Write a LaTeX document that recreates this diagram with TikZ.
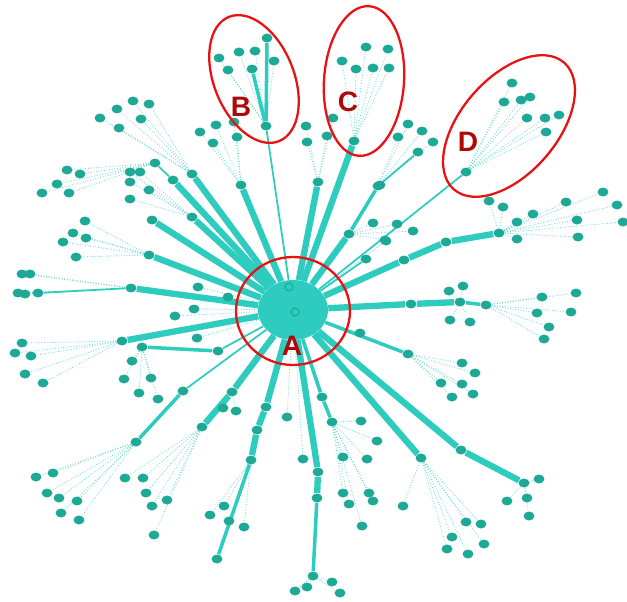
\documentclass[tikz,border=0pt]{standalone}
\usepackage{fontspec}
\setmainfont{Liberation Sans}
\usetikzlibrary{shapes.geometric,backgrounds}

\definecolor{nodeteal}{RGB}{30,168,150}
\definecolor{edgeteal}{RGB}{46,204,190}
\definecolor{ringred}{RGB}{232,18,18}
\definecolor{tagred}{RGB}{176,8,8}

\begin{document}
\begin{tikzpicture}[x=0.02cm,y=-0.02cm,
                    every node/.style={inner sep=0pt},
                    vertex/.style={ellipse,fill=nodeteal,minimum width=0.22cm,minimum height=0.18cm},
                    core/.style={ellipse,fill=edgeteal,minimum width=1.4cm,minimum height=1.2cm},
                    corevertex/.style={circle,draw=nodeteal,fill=edgeteal,line width=0.6pt,minimum size=0.16cm},
                    heavy/.style={draw=edgeteal,line width=3.6pt},
                    medium/.style={draw=edgeteal,line width=2pt},
                    light/.style={draw=edgeteal,line width=1pt},
                    faint/.style={draw=edgeteal,line width=0.5pt,densely dotted,opacity=0.65},
                    ring/.style={draw=ringred,line width=1.3pt},
                    tag/.style={text=tagred,font=\fontsize{16}{16}\selectfont\bfseries}]

  \useasboundingbox (0,0) rectangle (627,602);

  % the centre
  \node[core] (hub) at (293,310) {};
  \node[corevertex] (hubA) at (289,287) {};
  \node[corevertex] (hubB) at (295,312) {};

  % inner nodes
  \foreach \n/\x/\y in {b/266/126, c/354/141, d/466/172, u/318/182, f/349/234,
      e/378/186, g/366/259, rA/404/260, rB/446/242, rC/499/233,
      kA/411/304, kB/460/302, kC/486/305, m/408/354, pA/461/450, pB/524/483,
      q/421/458, sA/322/397, sB/332/422, vA/318/472, vB/317/498, vC/313/576,
      wA/266/407, wB/257/430, wC/251/460, xA/232/392, xB/202/427,
      yA/183/391, yB/136/442, zA/218/351, zB/142/347, o/122/341, l/131/288,
      h/149/255, i/152/220, j/192/217, nA/173/180, nB/155/163, t/192/174, a/241/185}
    \node[vertex] (\n) at (\x,\y) {};

  % outer nodes, each tied to its parent
  \foreach \p/\pts in {
      b/{267/38,219/58,239/52,255/51,274/61,228/70,252/69},
      c/{366/47,388/49,342/61,356/69,373/68,389/68},
      d/{512/83,504/102,521/100,530/97,527/118,545/118,559/115,546/132},
      u/{306/126,307/142,327/136,333/118},
      e/{398/137,408/124,422/131,433/142,418/152},
      f/{373/223,397/224,413/231,385/240},
      rC/{489/201,503/207,517/222,517/239,533/214,566/202,577/220,578/237,603/192,617/205,623/222},
      kB/{449/291,463/286,450/320,470/322},
      kC/{542/297,576/293,537/313,571/312,549/327,544/339},
      m/{462/363,475/373,441/383,462/384,452/397,473/394},
      pB/{539/479,507/501,527/498,529/516},
      q/{466/522,481/524,452/537,484/544,447/549,468/554,403/506},
      sB/{361/421,377/441,343/457,367/459,343/493,349/504,369/493,373/501,362/526},
      vC/{307/587,295/591,332/582,340/593},
      wC/{224/506,210/515,229/521,244/527,217/559},
      xA/{223/408,236/411},
      xB/{125/478,143/478,146/493,152/506,167/500,154/535},
      yB/{36/477,53/473,47/493,59/498,77/501,61/513,79/520},
      zB/{132/361,124/379,151/378,139/393,158/399},
      o/{22/343,15/353,31/356,25/374,43/383},
      l/{22/274,30/274,18/293,25/294,38/293},
      h/{85/221,73/233,86/238,63/242,76/257},
      j/{130/172,140/172,130/182,149/190,130/199},
      nB/{67/170,80/174,57/184,69/193,42/193},
      t/{100/118,117/109,133/101,149/104,119/128,141/119},
      a/{200/132,216/125,213/143,234/122,237/137},
      hub/{198/287,228/297,194/309,175/316,197/338,287/417,303/459,360/333,380/185,386/241}}
    \foreach [count=\k] \x/\y in \pts {
      \node[vertex] (\p\k) at (\x,\y) {};
      \begin{scope}[on background layer]
        \path (\p) edge[faint] (\p\k);
      \end{scope}
    };

  % spokes and chains
  \begin{scope}[on background layer]
    \path (hub) edge[light]  (b)
                edge[heavy]  (c)
                edge[light]  (d)
                edge[heavy]  (u)
                edge[heavy]  (f)
                edge[light]  (g)
                edge[heavy]  (rA)
                edge[heavy]  (kA)
                edge[medium] (m)
                edge[heavy]  (pA)
                edge[heavy]  (q)
                edge[medium] (sA)
                edge[heavy]  (vA)
                edge[heavy]  (wA)
                edge[heavy]  (xA)
                edge[light]  (yA)
                edge[light]  (zA)
                edge[heavy]  (o)
                edge[heavy]  (l)
                edge[heavy]  (h)
                edge[heavy]  (i)
                edge[heavy]  (j)
                edge[heavy]  (nA)
                edge[heavy]  (t)
                edge[heavy]  (a);
    \path (b)  edge[medium] (b1)
               edge[medium] (b7)
          (f)  edge[medium] (e)
          (e)  edge[light]  (e5)
          (rA) edge[heavy]  (rB)
          (rB) edge[heavy]  (rC)
          (kA) edge[heavy]  (kB)
          (kB) edge[medium] (kC)
          (pA) edge[heavy]  (pB)
          (sA) edge[medium] (sB)
          (vA) edge[heavy]  (vB)
          (vB) edge[medium] (vC)
          (wA) edge[heavy]  (wB)
          (wB) edge[heavy]  (wC)
          (wC) edge[medium] (wC5)
          (xA) edge[heavy]  (xB)
          (yA) edge[medium] (yB)
          (zA) edge[medium] (zB)
          (nA) edge[light]  (nB)
          (l)  edge[light]  (l5);
  \end{scope}

  % highlighted groups
  \draw[ring] (293,311) ellipse [x radius=1.14cm, y radius=1.08cm];
  \draw[ring, rotate around={22:(254,79)}] (254,79) ellipse [x radius=0.8cm, y radius=1.34cm];
  \draw[ring, rotate around={-4:(364,81)}] (364,81) ellipse [x radius=0.8cm, y radius=1.5cm];
  \draw[ring, rotate around={49:(509,126)}] (509,126) ellipse [x radius=1.68cm, y radius=0.96cm];

  \node[tag] (tagA) at (292,346) {A};
  \node[tag] (tagB) at (241,107) {B};
  \node[tag] (tagC) at (348,102) {C};
  \node[tag] (tagD) at (468,142) {D};

\end{tikzpicture}
\end{document}
